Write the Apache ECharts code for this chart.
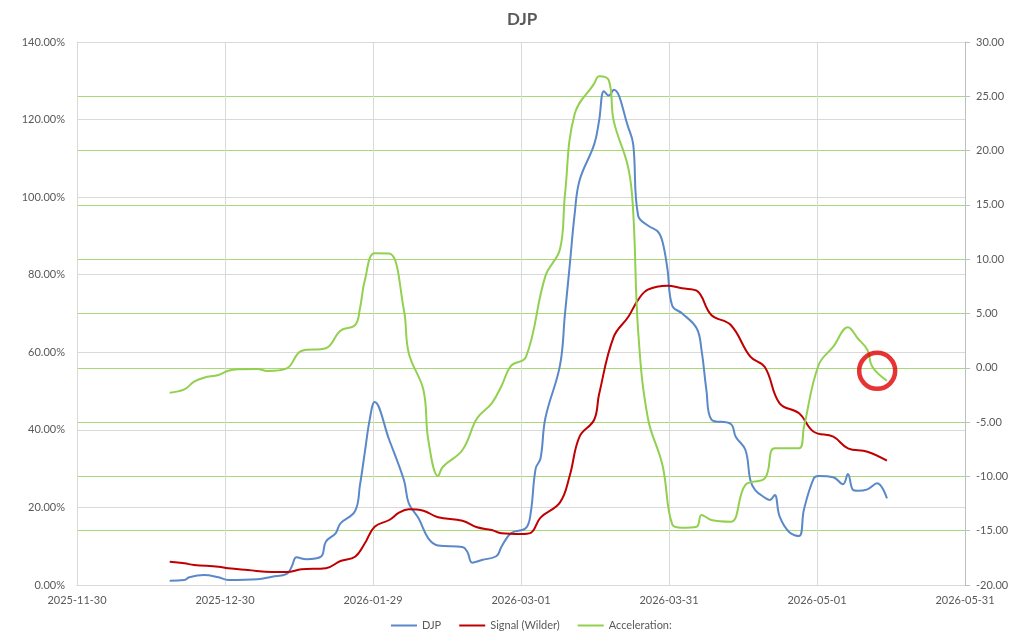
<!DOCTYPE html>
<html>
  <head>
    <meta charset="utf-8" />
    <title>DJP</title>
    <script src="https://cdn.jsdelivr.net/npm/echarts@6/dist/echarts.min.js"></script>
    <style>
      html, body { margin: 0; padding: 0; background: #fff; }
    </style>
  </head>
  <body>
    <div id="main" style="width: 1024px; height: 638px"></div>
    <script type="text/javascript">
      // x axis runs from 2025-11-30 to 2026-05-31, six equal steps
      var xStart = "2025-11-30";
      var xEnd = "2026-05-31";
      var xTickLabels = ["2025-11-30", "2025-12-30", "2026-01-29", "2026-03-01", "2026-03-31", "2026-05-01", "2026-05-31"];

      var djpDates = [
        "2025-12-19", "2025-12-22", "2025-12-23", "2025-12-26", "2025-12-29", "2025-12-31",
        "2026-01-06", "2026-01-09", "2026-01-12", "2026-01-13", "2026-01-14", "2026-01-16",
        "2026-01-19", "2026-01-20", "2026-01-22", "2026-01-23", "2026-01-26", "2026-01-27",
        "2026-01-28", "2026-01-29", "2026-01-30", "2026-02-02", "2026-02-05", "2026-02-06",
        "2026-02-08", "2026-02-10", "2026-02-12", "2026-02-17", "2026-02-18", "2026-02-19",
        "2026-02-21", "2026-02-24", "2026-02-25", "2026-02-27", "2026-03-02", "2026-03-03",
        "2026-03-04", "2026-03-05", "2026-03-06", "2026-03-09", "2026-03-10", "2026-03-11",
        "2026-03-12", "2026-03-13", "2026-03-16", "2026-03-17", "2026-03-18", "2026-03-19",
        "2026-03-20", "2026-03-23", "2026-03-24", "2026-03-25", "2026-03-27", "2026-03-29",
        "2026-03-30", "2026-03-31", "2026-04-01", "2026-04-03", "2026-04-06", "2026-04-07",
        "2026-04-08", "2026-04-09", "2026-04-13", "2026-04-14", "2026-04-16", "2026-04-17",
        "2026-04-18", "2026-04-20", "2026-04-21", "2026-04-22", "2026-04-23", "2026-04-25",
        "2026-04-27", "2026-04-28", "2026-04-30", "2026-05-01", "2026-05-04", "2026-05-06",
        "2026-05-07", "2026-05-08", "2026-05-09", "2026-05-11", "2026-05-13", "2026-05-15"
      ];
      var djpValues = [
        1.11, 1.29, 1.99, 2.58, 1.99, 1.29,
        1.47, 2.14, 2.84, 4.72, 7.14, 6.63,
        7.3, 11.16, 13.33, 15.91, 19.08, 25.8,
        34.3, 42.7, 47.18, 37.38, 27.07, 21.06,
        17.19, 12.04, 10.18, 9.8, 8.58, 5.75,
        6.45, 7.48, 9.87, 13.41, 14.69, 18.69,
        30.01, 32.61, 43.05, 56.7, 69.7, 82.6,
        95.7, 104.3, 113.59, 119.67, 127.33, 126.19,
        127.69, 117.94, 113.59, 95.28, 92.68, 91.2,
        88.5, 81.6, 72.0, 70.04, 66.18, 60.58,
        50.27, 42.72, 41.51, 38.23, 34.8, 27.07,
        24.49, 22.5, 21.9, 23.2, 17.7, 13.6,
        12.63, 19.5, 27.51, 28.1, 27.77, 26.0,
        28.62, 24.6, 24.3, 24.67, 26.22, 22.35
      ];

      var signalDates = [
        "2025-12-19", "2025-12-22", "2025-12-24", "2025-12-29", "2025-12-31", "2026-01-04",
        "2026-01-09", "2026-01-12", "2026-01-15", "2026-01-20", "2026-01-23", "2026-01-26",
        "2026-01-28", "2026-01-30", "2026-02-02", "2026-02-04", "2026-02-06", "2026-02-09",
        "2026-02-12", "2026-02-17", "2026-02-20", "2026-02-23", "2026-02-25", "2026-03-01",
        "2026-03-03", "2026-03-05", "2026-03-09", "2026-03-11", "2026-03-13", "2026-03-16",
        "2026-03-17", "2026-03-20", "2026-03-23", "2026-03-25", "2026-03-27", "2026-03-31",
        "2026-04-03", "2026-04-06", "2026-04-09", "2026-04-13", "2026-04-17", "2026-04-20",
        "2026-04-23", "2026-04-27", "2026-04-30", "2026-05-04", "2026-05-07", "2026-05-11",
        "2026-05-15"
      ];
      var signalValues = [
        6.01, 5.59, 5.16, 4.72, 4.31, 3.87,
        3.35, 3.35, 4.05, 4.31, 6.19, 7.3,
        10.75, 15.03, 16.76, 18.64, 19.52, 19.15,
        17.45, 16.58, 14.87, 14.18, 13.33, 13.15,
        13.46, 17.38, 21.29, 28.25, 38.26, 42.61,
        49.16, 63.96, 69.17, 73.52, 76.13, 77.18,
        76.49, 75.87, 69.61, 67.03, 58.86, 56.12,
        46.84, 44.26, 39.52, 38.23, 35.24, 34.36,
        32.04
      ];

      var accelDates = [
        "2025-12-19", "2025-12-22", "2025-12-24", "2025-12-26", "2025-12-29", "2025-12-31",
        "2026-01-02", "2026-01-06", "2026-01-08", "2026-01-12", "2026-01-15", "2026-01-20",
        "2026-01-23", "2026-01-26", "2026-01-27", "2026-01-28", "2026-01-30", "2026-02-02",
        "2026-02-05", "2026-02-06", "2026-02-09", "2026-02-10", "2026-02-12", "2026-02-13",
        "2026-02-17", "2026-02-20", "2026-02-23", "2026-02-25", "2026-02-27", "2026-03-02",
        "2026-03-06", "2026-03-09", "2026-03-10", "2026-03-12", "2026-03-16", "2026-03-17",
        "2026-03-19", "2026-03-20", "2026-03-23", "2026-03-24", "2026-03-25", "2026-03-27",
        "2026-03-30", "2026-04-01", "2026-04-03", "2026-04-06", "2026-04-07", "2026-04-09",
        "2026-04-13", "2026-04-16", "2026-04-20", "2026-04-22", "2026-04-27", "2026-04-28",
        "2026-05-01", "2026-05-04", "2026-05-07", "2026-05-09", "2026-05-11", "2026-05-12",
        "2026-05-15"
      ];
      var accelValues = [
        -2.29, -1.98, -1.28, -0.91, -0.66, -0.27,
        -0.14, -0.11, -0.29, -0.05, 1.55, 1.8,
        3.42, 3.94, 5.48, 8.08, 10.54, 10.52,
        5.32, 1.33, -2.04, -6.65, -9.96, -9.11,
        -7.57, -4.65, -3.27, -1.67, 0.2, 0.98,
        8.44, 10.93, 15.9, 23.37, 26.17, 26.85,
        26.47, 22.74, 18.39, 14.35, 3.46, -4.62,
        -8.98, -14.42, -14.72, -14.63, -13.55, -14.01,
        -14.17, -10.79, -10.17, -7.41, -7.41, -5.42,
        0.26, 1.94, 3.73, 2.72, 1.64, 0.1,
        -1.19
      ];

      // red circle drawn on the chart (right axis value)
      var circleDate = "2026-05-13";
      var circleValue = -0.28;

      function dayOf(d) {
        return (Date.parse(d) - Date.parse(xStart)) / 86400000;
      }
      function pairs(dates, values) {
        var out = [];
        for (var i = 0; i < dates.length; i++) {
          out.push([dayOf(dates[i]), values[i]]);
        }
        return out;
      }

      var span = dayOf(xEnd);
      var step = span / (xTickLabels.length - 1);
      var font = "Lato, 'Open Sans', sans-serif";

      var myChart = echarts.init(document.getElementById("main"));

      var option = {
        animation: false,
        title: {
          text: "DJP",
          left: 502,
          top: 6,
          textStyle: { fontFamily: font, fontSize: 17, fontWeight: "bold", color: "#595959" }
        },
        legend: {
          data: ["DJP", "Signal (Wilder)", "Acceleration:"],
          icon: "rect",
          left: 386,
          top: 615,
          itemWidth: 26,
          itemHeight: 2,
          itemGap: 18,
          textStyle: { fontFamily: font, fontSize: 11, color: "#595959" }
        },
        grid: { left: 77, right: 59, top: 42, bottom: 53 },
        xAxis: {
          type: "value",
          min: 0,
          max: span,
          interval: step,
          axisLine: { show: true, lineStyle: { color: "#bfbfbf", width: 1 } },
          axisTick: { show: false },
          splitLine: { show: true, lineStyle: { color: "#d9d9d9", width: 1 } },
          axisLabel: {
            margin: 10,
            fontFamily: font,
            fontSize: 11,
            color: "#595959",
            showMaxLabel: true,
            formatter: function (v) {
              return xTickLabels[Math.round(v / step)] || "";
            }
          }
        },
        yAxis: [
          {
            type: "value",
            min: 0,
            max: 140,
            interval: 20,
            z: 1,
            axisLine: { show: true, lineStyle: { color: "#d9d9d9", width: 1 } },
            axisTick: { show: false },
            splitLine: { show: true, lineStyle: { color: "#d9d9d9", width: 1 } },
            axisLabel: {
              margin: 12,
              fontFamily: font,
              fontSize: 11,
              color: "#595959",
              formatter: function (v) {
                return v.toFixed(2) + "%";
              }
            }
          },
          {
            type: "value",
            min: -20,
            max: 30,
            interval: 5,
            position: "right",
            z: 0,
            axisLine: { show: true, lineStyle: { color: "#bfbfbf", width: 1 } },
            axisTick: { show: true, length: 5, lineStyle: { color: "#bfbfbf" } },
            // top border stays grey: skip the green line at 30
            splitLine: { show: true, showMaxLine: false, lineStyle: { color: "#a9d879", width: 1.2 } },
            axisLabel: {
              margin: 11,
              fontFamily: font,
              fontSize: 11,
              color: "#595959",
              formatter: function (v) {
                return v.toFixed(2);
              }
            }
          }
        ],
        series: [
          {
            name: "DJP",
            type: "line",
            yAxisIndex: 0,
            symbol: "none",
            smooth: 0.4,
            lineStyle: { color: "#5a88c8", width: 2 },
            itemStyle: { color: "#5a88c8" },
            data: pairs(djpDates, djpValues)
          },
          {
            name: "Signal (Wilder)",
            type: "line",
            yAxisIndex: 0,
            symbol: "none",
            smooth: 0.4,
            lineStyle: { color: "#c00000", width: 2 },
            itemStyle: { color: "#c00000" },
            data: pairs(signalDates, signalValues)
          },
          {
            name: "Acceleration:",
            type: "line",
            yAxisIndex: 1,
            symbol: "none",
            smooth: 0.4,
            lineStyle: { color: "#92d050", width: 2 },
            itemStyle: { color: "#92d050" },
            data: pairs(accelDates, accelValues)
          },
          {
            name: "circle",
            type: "scatter",
            yAxisIndex: 1,
            symbol: "circle",
            symbolSize: 36,
            itemStyle: { color: "rgba(0,0,0,0)", borderColor: "#e00000", borderWidth: 4.5 },
            silent: true,
            z: 10,
            data: [[dayOf(circleDate), circleValue]]
          }
        ]
      };

      myChart.setOption(option);
    </script>
  </body>
</html>
